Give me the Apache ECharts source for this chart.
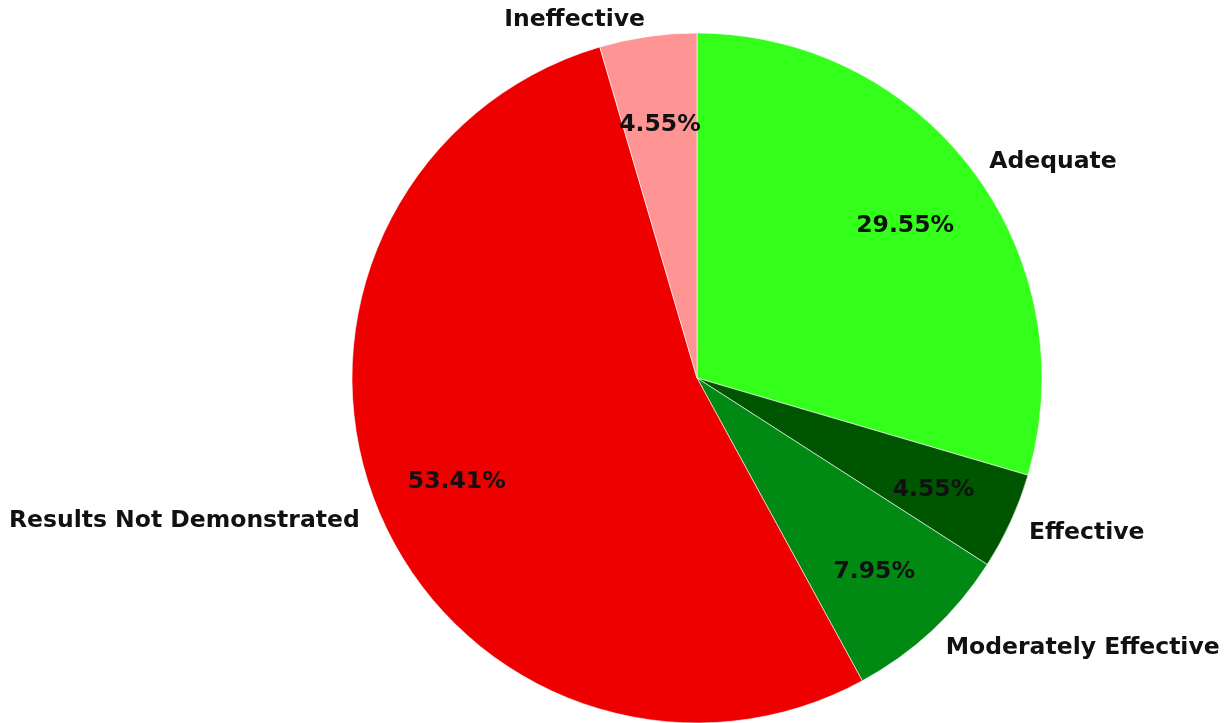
<!DOCTYPE html>
<html>
<head>
<meta charset="utf-8">
<script src="https://cdn.jsdelivr.net/npm/echarts@6/dist/echarts.min.js"></script>
<style>
  html, body { margin: 0; padding: 0; background: #fff; }
  #chart { width: 1225px; height: 723px; }
</style>
</head>
<body>
<div id="chart"></div>
<script>
// Program ratings (number of programs per rating)
const categories = ['Adequate', 'Effective', 'Moderately Effective', 'Results Not Demonstrated', 'Ineffective'];
const counts = [26, 4, 7, 47, 4];
const colors = ['#33ff1a', '#005500', '#008a14', '#ee0000', '#ff9494'];

const total = counts.reduce((a, b) => a + b, 0);
const slices = categories.map((name, i) => ({ name: name, value: counts[i] }));

const labelFont = {
  fontFamily: '"DejaVu Sans", sans-serif',
  fontWeight: 'bold',
  fontSize: 23.5,
  color: '#111111'
};

const chart = echarts.init(document.getElementById('chart'), null, { renderer: 'canvas' });
chart.setOption({
  animation: false,
  backgroundColor: '#ffffff',
  color: colors,
  series: [
    {
      // slices with category names outside
      type: 'pie',
      center: [697, 378],
      radius: [0, 345],
      startAngle: 90,
      clockwise: true,
      avoidLabelOverlap: false,
      silent: true,
      data: slices,
      itemStyle: { borderColor: '#ffffff', borderWidth: 0.6 },
      label: Object.assign({
        show: true,
        position: 'outside',
        formatter: '{b}',
        distanceToLabelLine: 0
      }, labelFont),
      labelLine: { show: false, length: 20, length2: 0 },
      labelLayout: { dy: 3 }
    },
    {
      // percentage labels inside the slices
      type: 'pie',
      center: [697, 378],
      radius: [169, 345],
      startAngle: 90,
      clockwise: true,
      avoidLabelOverlap: false,
      silent: true,
      data: slices,
      itemStyle: { color: 'rgba(0,0,0,0)', borderWidth: 0 },
      label: Object.assign({
        show: true,
        position: 'inside',
        formatter: p => (p.value / total * 100).toFixed(2) + '%'
      }, labelFont),
      labelLine: { show: false },
      labelLayout: { dy: 4 }
    }
  ]
});
</script>
</body>
</html>
